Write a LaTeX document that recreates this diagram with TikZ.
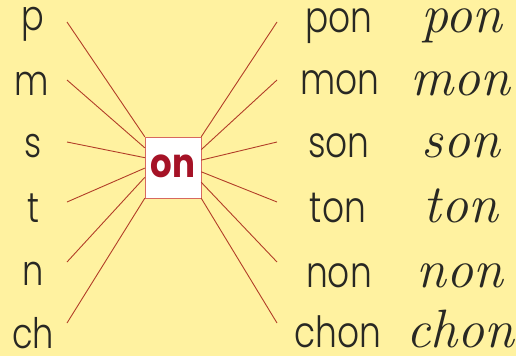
\documentclass[tikz,border=0pt]{standalone}
\usepackage{fontspec}
\usepackage{tikz}
\usetikzlibrary{calc}
\newfontfamily\gothic{Poppins Light}
\newfontfamily\gothicbold{Poppins}
\newcommand\narrowtxt[2][0.8]{\scalebox{#1}[1]{#2}}
\definecolor{paper}{RGB}{255,242,160}
\definecolor{raylin}{RGB}{178,62,40}
\definecolor{onred}{RGB}{165,18,38}
\definecolor{boxred}{RGB}{215,105,95}
\definecolor{ink}{RGB}{40,40,35}
\tikzset{
  letterlbl/.style={anchor=base,font=\gothic\fontsize{42}{42}\selectfont,text=ink,inner sep=0pt},
  wordlbl/.style={anchor=base,font=\gothic\fontsize{43}{43}\selectfont,text=ink,inner sep=0pt},
  cursivelbl/.style={anchor=base,font=\itshape\fontsize{54}{54}\selectfont,text=ink,inner sep=0pt},
  onbox/.style={draw=boxred,fill=white,minimum width=56pt,minimum height=61pt,inner sep=0pt,
    font=\gothicbold\bfseries\fontsize{40}{40}\selectfont,text=onred},
  ray/.style={draw=raylin,line width=0.9pt}
}

\begin{document}
\begin{tikzpicture}[x=1pt,y=-1pt]
  \fill[paper] (0,0) rectangle (516,356);
  \useasboundingbox (0,0) rectangle (516,356);
  % the box in the middle
  \node[onbox] (on) at (173,167.5) {\raisebox{3pt}{\narrowtxt[0.85]{on}}};
  % left column
  \node[letterlbl] (l1) at (33,30) {\narrowtxt{p}};
  \node[letterlbl] (l2) at (32,95) {\narrowtxt{m}};
  \node[letterlbl] (l3) at (33,157) {\narrowtxt{s}};
  \node[letterlbl] (l4) at (33,222) {\narrowtxt{t}};
  \node[letterlbl] (l5) at (33,285) {\narrowtxt{n}};
  \node[letterlbl] (l6) at (33,348) {\narrowtxt{ch}};
  % printed words
  \node[wordlbl] (w1) at (339,32) {\narrowtxt{pon}};
  \node[wordlbl] (w2) at (340,94) {\narrowtxt{mon}};
  \node[wordlbl] (w3) at (339,157) {\narrowtxt{son}};
  \node[wordlbl] (w4) at (338,222) {\narrowtxt{ton}};
  \node[wordlbl] (w5) at (339,287) {\narrowtxt{non}};
  \node[wordlbl] (w6) at (338,347) {\narrowtxt{chon}};
  % cursive words
  \node[cursivelbl] (c1) at (462,32) {pon};
  \node[cursivelbl] (c2) at (460,95) {mon};
  \node[cursivelbl] (c3) at (461,157) {son};
  \node[cursivelbl] (c4) at (461,222) {ton};
  \node[cursivelbl] (c5) at (460,287) {non};
  \node[cursivelbl] (c6) at (460,347) {chon};
  % free ends of the rays
  \coordinate (a1) at (67,22);  \coordinate (b1) at (277,22);
  \coordinate (a2) at (67,80);  \coordinate (b2) at (277,80);
  \coordinate (a3) at (67,142); \coordinate (b3) at (277,142);
  \coordinate (a4) at (67,202); \coordinate (b4) at (277,202);
  \coordinate (a5) at (67,262); \coordinate (b5) at (277,262);
  \coordinate (a6) at (67,323); \coordinate (b6) at (277,323);
  % rays
  \foreach \i/\f in {1/0,2/0.18,3/0.34,4/0.51,5/0.66,6/1}
    \draw[ray] (a\i) -- ($(on.north west)!\f!(on.south west)$);
  \foreach \i/\f in {1/0,2/0.21,3/0.38,4/0.57,5/0.74,6/1}
    \draw[ray] (b\i) -- ($(on.north east)!\f!(on.south east)$);
\end{tikzpicture}
\end{document}
